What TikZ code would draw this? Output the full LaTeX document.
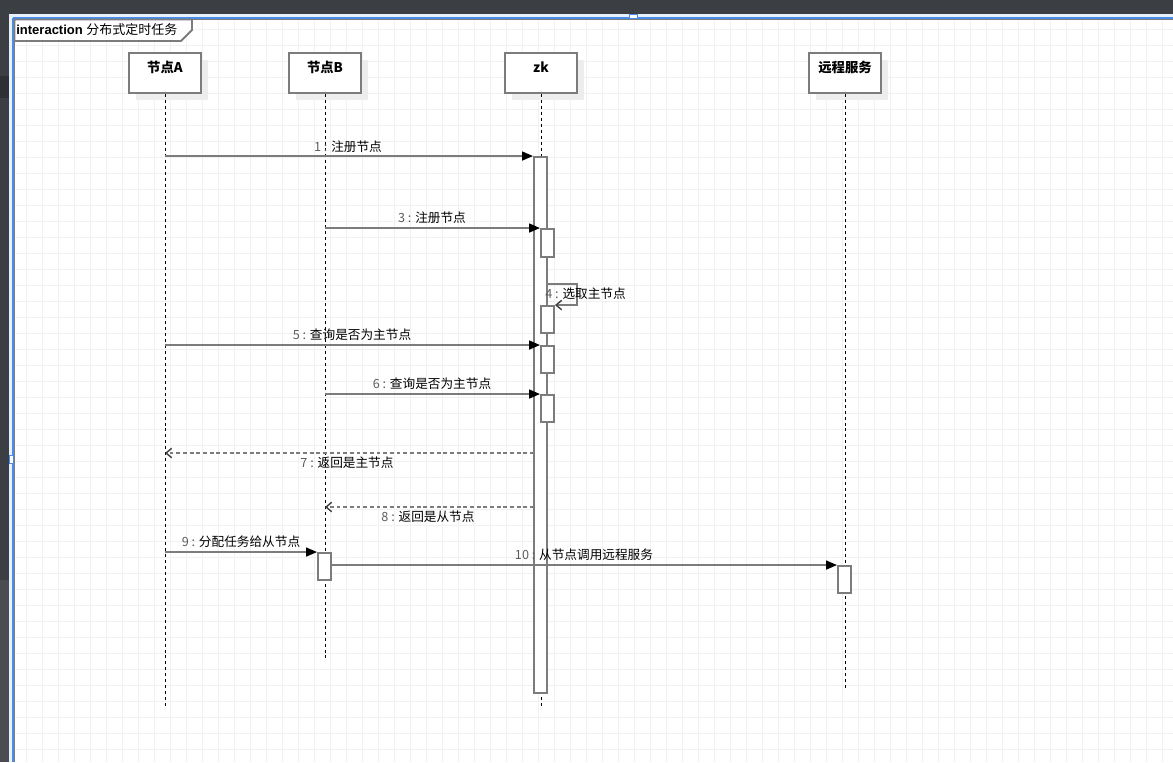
\documentclass[tikz,border=0pt]{standalone}
\usepackage{fontspec}
\setmainfont{Liberation Sans}
\newfontfamily\cjk{Noto Sans CJK SC}
\usepackage{xcolor}
\usetikzlibrary{arrows.meta, fit, shadows}
\definecolor{uidark}{HTML}{3B3E42}
\definecolor{uilow}{HTML}{4A4C50}
\definecolor{uibox}{HTML}{2E3034}
\definecolor{selblue}{HTML}{4A8EEA}
\definecolor{selband}{HTML}{E8F0FC}
\definecolor{gridgray}{HTML}{F1F1F1}
\definecolor{linegray}{HTML}{7C7C7C}
\definecolor{numgray}{HTML}{5E5E5E}
\definecolor{shadowgray}{HTML}{EDEDED}
\newcommand{\msgtext}[2]{{\color{numgray}#1 :} #2}

\begin{document}
\begin{tikzpicture}[x=0.02cm, y=-0.02cm,
  gridline/.style={gridgray, line width=0.4pt},
  head/.style={draw=linegray, line width=1.1pt, fill=white, minimum width=1.44cm,
    minimum height=0.8cm, inner sep=0pt,
    drop shadow={shadow xshift=0.14cm, shadow yshift=-0.14cm, fill=shadowgray, opacity=1}},
  headtext/.style={font=\cjk\fontsize{7.6}{8}\selectfont\bfseries, inner sep=0pt},
  life/.style={black, line width=0.55pt, dash pattern=on 1.7pt off 1.7pt},
  bar/.style={draw=linegray, line width=1.1pt, fill=white, inner sep=0pt},
  msg/.style={linegray, line width=1.1pt, -{Triangle[length=6.2pt, width=5pt, color=black]}},
  selfmsg/.style={linegray, line width=1.1pt, -{Straight Barb[length=3.2pt, width=5.4pt, color=black!75, line width=0.8pt]}},
  ret/.style={linegray, line width=1.1pt, dash pattern=on 2.2pt off 1.6pt,
    -{Straight Barb[length=3.2pt, width=5.4pt, color=black!75, line width=0.8pt]}},
  lbl/.style={font=\cjk\fontsize{7.2}{8}\selectfont, inner sep=0pt},
]
\useasboundingbox (0,0) rectangle (1173,762);
\fill[white] (0,0) rectangle (1173,762);
\foreach \gx in {26,42,...,1170} \draw[gridline] (\gx,19) -- (\gx,762);
\foreach \gy in {29,45,...,760} \draw[gridline] (14,\gy) -- (1173,\gy);

\fill[uidark] (0,0) rectangle (1173,14);
\fill[uidark] (0,14) rectangle (9,580);
\fill[uilow] (0,580) rectangle (9,762);
\fill[uibox] (0,76) rectangle (9,98);
\fill[selband] (9,14) rectangle (1173,18);
\fill[selband] (9,14) rectangle (13,762);
\draw[selblue, line width=0.8pt] (13,18) -- (1173,18);
\draw[selblue, line width=0.8pt] (13,18) -- (13,762);
\draw[selblue, line width=0.5pt, fill=white] (629,14) rectangle (637,18);
\draw[selblue, line width=0.5pt, fill=white] (9,455) rectangle (13,463);

\draw[linegray, line width=1pt] (14.5,762) -- (14.5,19.5) -- (1173,19.5);
\draw[linegray, line width=1.1pt, fill=white] (14.5,19.5) -- (192,19.5) -- (192,30) -- (181,41) -- (14.5,41) -- cycle;
\node[anchor=west, font=\fontsize{7.4}{8}\selectfont, inner sep=0pt] (title) at (16,30)
  {\textbf{interaction} {\cjk 分布式定时任务}};

\node[head] (A) at (165,73) {};
\node[head] (B) at (325,73) {};
\node[head] (zk) at (541,73) {};
\node[head] (rs) at (845,73) {};
\node[headtext] (Alabel) at (165,67) {节点A};
\node[headtext] (Blabel) at (325,67) {节点B};
\node[headtext] (zklabel) at (541,67) {zk};
\node[headtext] (rslabel) at (845,67) {远程服务};

\coordinate (Aend) at (165,708);
\coordinate (Bend) at (325,660);
\coordinate (zkend) at (541,706);
\coordinate (rsend) at (845,690);
\draw[life] (A.south) -- (Aend);
\draw[life] (B.south) -- (Bend);
\draw[life] (zk.south) -- (zkend);
\draw[life] (rs.south) -- (rsend);

\node[bar, fit={(534,157) (547,693)}] (zkbar) {};
\node[bar, fit={(541,229) (554,257)}] (b3) {};
\node[bar, fit={(541,306) (554,333)}] (b4) {};
\node[bar, fit={(541,346) (554,373)}] (b5) {};
\node[bar, fit={(541,395) (554,422)}] (b6) {};
\node[bar, fit={(318,553) (331,580)}] (b9) {};
\node[bar, fit={(838,566) (851,593)}] (b10) {};

\coordinate (m4) at (577,284);
\coordinate (m7) at (534,453);
\coordinate (m8) at (534,507);
\draw[msg] (A |- zkbar.north) -- (zkbar.north west);
\draw[msg] (B |- b3.north) -- (b3.north west);
\draw[selfmsg] (zkbar.east |- m4) -- (m4) |- (b4.north east);
\draw[msg] (A |- b5.north) -- (b5.north west);
\draw[msg] (B |- b6.north) -- (b6.north west);
\draw[ret] (m7) -- (A |- m7);
\draw[ret] (m8) -- (B |- m8);
\draw[msg] (A |- b9.north) -- (b9.north west);
\draw[msg] (b9.east |- b10.north) -- (b10.north west);

\node[lbl] (l1) at (348,147) {\msgtext{1}{注册节点}};
\node[lbl] (l3) at (432,218) {\msgtext{3}{注册节点}};
\node[lbl, anchor=west] (l4) at (545,294) {\msgtext{4}{选取主节点}};
\node[lbl] (l5) at (352,335) {\msgtext{5}{查询是否为主节点}};
\node[lbl] (l6) at (432,384) {\msgtext{6}{查询是否为主节点}};
\node[lbl] (l7) at (347,463) {\msgtext{7}{返回是主节点}};
\node[lbl] (l8) at (428,517) {\msgtext{8}{返回是从节点}};
\node[lbl] (l9) at (241,542) {\msgtext{9}{分配任务给从节点}};
\node[lbl] (l10) at (584,555) {\msgtext{10}{从节点调用远程服务}};
\end{tikzpicture}
\end{document}
